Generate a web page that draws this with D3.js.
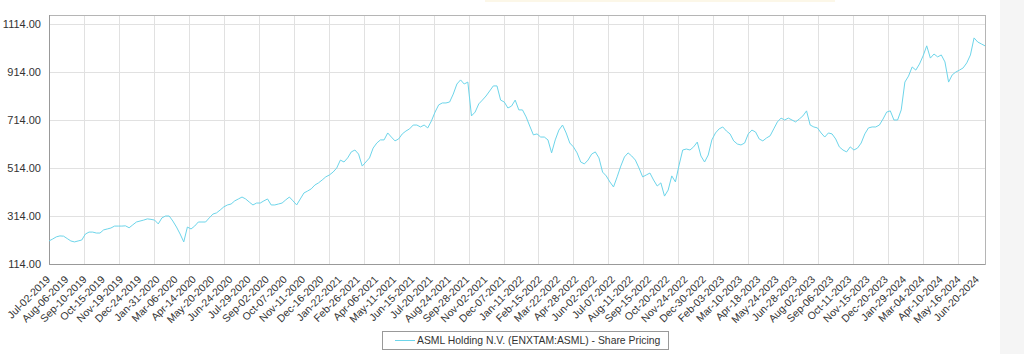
<!DOCTYPE html>
<html>
<head>
<meta charset="utf-8">
<script src="https://cdn.jsdelivr.net/npm/d3@7"></script>
<style>
  body { margin: 0; background: #fff; }
  svg { display: block; font-family: "Liberation Sans", Arial, sans-serif; }
</style>
</head>
<body>
<div id="chart"></div>
<script>
// Weekly closes (every 5 trading days)
const prices = [
  210, 218, 227, 231, 230, 220, 210, 206, 210, 214,
  239, 247, 247, 243, 243, 256, 260, 264, 272, 272,
  272, 273, 265, 277, 289, 293, 297, 302, 300, 297,
  281, 306, 314, 314, 293, 268, 239, 206, 268, 260,
  272, 289, 289, 289, 306, 322, 327, 339, 352, 360,
  364, 377, 385, 393, 385, 372, 360, 368, 368, 377,
  385, 360, 360, 364, 368, 381, 393, 377, 360, 385,
  410, 418, 427, 443, 452, 464, 477, 485, 497, 514,
  547, 539, 556, 581, 589, 572, 522, 539, 556, 597,
  618, 631, 631, 660, 643, 627, 635, 656, 668, 677,
  693, 693, 685, 693, 681, 710, 747, 777, 785, 785,
  789, 822, 864, 881, 864, 872, 731, 747, 781, 797,
  814, 835, 856, 856, 797, 789, 764, 772, 797, 756,
  756, 727, 689, 652, 656, 643, 643, 631, 577, 631,
  672, 693, 660, 618, 602, 577, 539, 531, 547, 572,
  581, 556, 497, 481, 456, 435, 477, 522, 560, 577,
  564, 547, 514, 477, 485, 493, 464, 439, 452, 397,
  422, 481, 456, 526, 589, 593, 589, 602, 622, 564,
  539, 568, 631, 660, 677, 685, 668, 656, 627, 614,
  610, 618, 656, 672, 664, 635, 627, 639, 648, 677,
  706, 722, 714, 722, 714, 706, 718, 731, 752, 693,
  685, 681, 660, 643, 660, 656, 635, 602, 589, 581,
  602, 589, 597, 618, 656, 681, 685, 685, 693, 718,
  747, 752, 714, 714, 756, 872, 897, 935, 922, 947,
  981, 1023, 972, 989, 977, 985, 956, 872, 902, 914,
  922, 931, 952, 985, 1056, 1039, 1031, 1023
];

// one label every 25 trading days (= every 5th weekly point)
const dateLabels = [
  "Jul-02-2019", "Aug-06-2019", "Sep-10-2019", "Oct-15-2019", "Nov-19-2019", "Dec-24-2019",
  "Jan-31-2020", "Mar-06-2020", "Apr-14-2020", "May-20-2020", "Jun-24-2020", "Jul-29-2020",
  "Sep-02-2020", "Oct-07-2020", "Nov-11-2020", "Dec-16-2020", "Jan-22-2021", "Feb-26-2021",
  "Apr-06-2021", "May-11-2021", "Jun-15-2021", "Jul-20-2021", "Aug-24-2021", "Sep-28-2021",
  "Nov-02-2021", "Dec-07-2021", "Jan-11-2022", "Feb-15-2022", "Mar-22-2022", "Apr-28-2022",
  "Jun-02-2022", "Jul-07-2022", "Aug-11-2022", "Sep-15-2022", "Oct-20-2022", "Nov-24-2022",
  "Dec-30-2022", "Feb-03-2023", "Mar-10-2023", "Apr-18-2023", "May-24-2023", "Jun-28-2023",
  "Aug-02-2023", "Sep-06-2023", "Oct-11-2023", "Nov-15-2023", "Dec-20-2023", "Jan-29-2024",
  "Mar-04-2024", "Apr-10-2024", "May-16-2024", "Jun-20-2024"
];
const labelStep = 5;

const yTicks = [114, 314, 514, 714, 914, 1114];
const yMax = 1151.5;
const gridStep = 9.6; // vertical grid every ~48 trading days

const seriesName = "ASML Holding N.V. (ENXTAM:ASML) - Share Pricing";
const lineColor = "#6dd5ea";

const width = 1024, height = 354;
const margin = { left: 49, right: 39, top: 15, bottom: 90 };

const svg = d3.select("#chart").append("svg")
  .attr("width", width)
  .attr("height", height);

// light strip on the far right and faint tint at the top
svg.append("rect").attr("x", 1000).attr("y", 0).attr("width", 24).attr("height", height).attr("fill", "#f5f5f5");
svg.append("rect").attr("x", 485).attr("y", 0).attr("width", 350).attr("height", 2).attr("fill", "#fcf7e8");

const x = d3.scaleLinear()
  .domain([0, prices.length - 1])
  .range([margin.left, width - margin.right]);

const y = d3.scaleLinear()
  .domain([yTicks[0], yMax])
  .range([height - margin.bottom, margin.top]);

const g = svg.append("g");

// grid
g.selectAll(".vgrid")
  .data(d3.range(gridStep, prices.length - 1, gridStep))
  .enter().append("line")
  .attr("x1", d => Math.round(x(d)) + 0.5).attr("x2", d => Math.round(x(d)) + 0.5)
  .attr("y1", y(yMax)).attr("y2", y(yTicks[0]))
  .attr("stroke", "#e1e1e1");

g.selectAll(".hgrid")
  .data(yTicks.slice(1))
  .enter().append("line")
  .attr("x1", x(0)).attr("x2", x(prices.length - 1))
  .attr("y1", d => Math.round(y(d)) + 0.5).attr("y2", d => Math.round(y(d)) + 0.5)
  .attr("stroke", "#e1e1e1");

// plot frame
g.append("rect")
  .attr("x", x(0) + 0.5).attr("y", y(yMax) + 0.5)
  .attr("width", x(prices.length - 1) - x(0)).attr("height", y(yTicks[0]) - y(yMax))
  .attr("fill", "none").attr("stroke", "#b5b5b5");
g.append("path")
  .attr("d", `M${x(0) + 0.5},${y(yMax)}V${y(yTicks[0]) + 0.5}H${x(prices.length - 1)}`)
  .attr("fill", "none").attr("stroke", "#999");

// y labels
g.selectAll(".ylab")
  .data(yTicks)
  .enter().append("text")
  .attr("x", 41)
  .attr("y", d => y(d))
  .attr("dy", "0.35em")
  .attr("text-anchor", "end")
  .attr("font-size", 11)
  .attr("fill", "#333")
  .text(d => d3.format(".2f")(d));

// x labels
g.selectAll(".xlab")
  .data(dateLabels)
  .enter().append("text")
  .attr("transform", (d, i) => `translate(${x(i * labelStep) + 2},${y(yTicks[0]) + 16}) rotate(-45)`)
  .attr("text-anchor", "end")
  .attr("font-size", 10.5)
  .attr("fill", "#333")
  .text(d => d);

// price line
const line = d3.line()
  .x((d, i) => x(i))
  .y(d => y(d));

g.append("path")
  .datum(prices)
  .attr("d", line)
  .attr("fill", "none")
  .attr("stroke", lineColor)
  .attr("stroke-width", 1);

// legend
const legend = svg.append("g");
legend.append("rect")
  .attr("x", 382.5).attr("y", 331.5).attr("width", 286).attr("height", 18)
  .attr("fill", "#fff").attr("stroke", "#999");
legend.append("line")
  .attr("x1", 395).attr("x2", 415).attr("y1", 340.5).attr("y2", 340.5)
  .attr("stroke", lineColor);
legend.append("text")
  .attr("x", 417).attr("y", 340.5).attr("dy", "0.35em")
  .attr("font-size", 10.4).attr("fill", "#333")
  .text(seriesName);
</script>
</body>
</html>
